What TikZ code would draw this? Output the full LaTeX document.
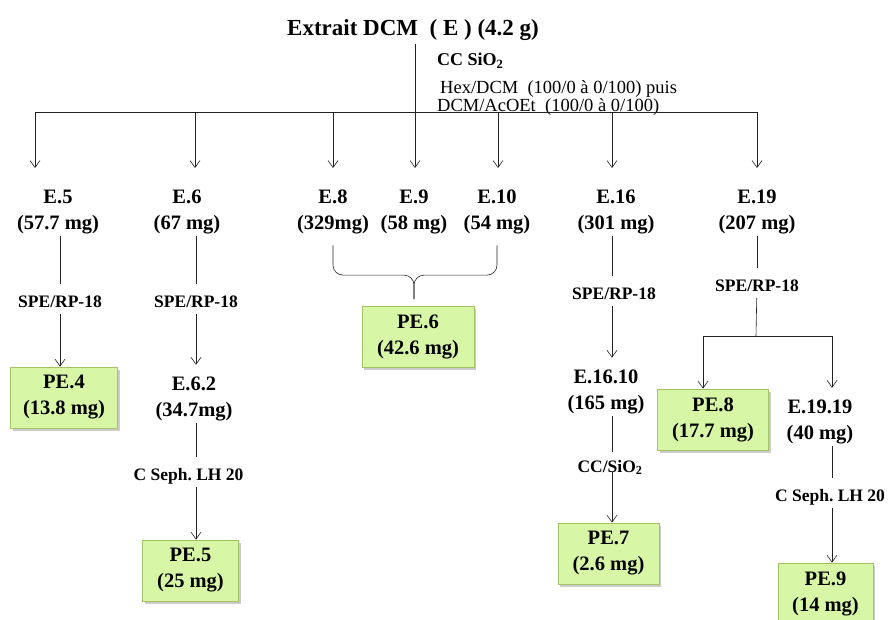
\documentclass[tikz,border=0pt]{standalone}
\usepackage{fontspec}
\setmainfont{Liberation Serif}
\usetikzlibrary{arrows.meta,positioning,calc,shadows}
\definecolor{pegreen}{HTML}{D8F7A6}
\definecolor{peedge}{HTML}{A3C267}
\definecolor{ink}{HTML}{222222}
\frenchspacing

\begin{document}
\begin{tikzpicture}[
  x=1pt, y=-1pt,
  frac/.style={font=\bfseries\fontsize{20.5}{26}\selectfont, text=black,
    align=center, inner sep=2pt},
  method/.style={font=\bfseries\fontsize{17.5}{20}\selectfont, text=black,
    text height=20pt, text depth=4pt, inner ysep=3pt, inner xsep=1pt},
  pebox/.style={draw=peedge, fill=pegreen, line width=0.8pt,
    drop shadow={shadow xshift=2pt, shadow yshift=-2.5pt, fill=black!40},
    font=\bfseries\fontsize{20.5}{26}\selectfont, align=center,
    minimum width=#1, minimum height=61pt, inner sep=0pt},
  line/.style={ink, line width=0.6pt},
  arrow/.style={ink, line width=0.6pt, -{Straight Barb[length=7pt,width=10pt]}},
  tofrac/.style={shorten >=10pt},
]
  \useasboundingbox (0,0) rectangle (890,619);

  % Extract and first column
  \node[font=\bfseries\fontsize{23}{26}\selectfont] (title) at (413,30)
    {Extrait DCM~~( E ) (4.2 g)};
  \node[anchor=west, font=\bfseries\fontsize{18}{20}\selectfont, inner sep=0pt]
    (cc) at (437,61) {CC SiO\textsubscript{2}};
  \node[anchor=north west, align=left, font=\fontsize{18.5}{18}\selectfont, inner sep=0pt]
    (eluent) at (437,80)
    {\hspace{3pt}Hex/DCM~~(100/0 à 0/100) puis\\DCM/AcOEt~~(100/0 à 0/100)};

  % Fractions bus
  \foreach \x/\n in {35/5,195/6,333/8,415/9,498/10,612/16,757/19} {
    \coordinate (top\n) at (\x,112);
    \coordinate (tip\n) at (\x,168);
    \draw[arrow] (top\n) -- (tip\n);
  }
  \draw[line] (top5) -- (top19);
  \draw[line] (title.south -| top9) -- (top9);

  % Fractions E
  \node[frac] (e5)  at (58,212)  {E.5\\(57.7 mg)};
  \node[frac] (e6)  at (187,212) {E.6\\(67 mg)};
  \node[frac] (e8)  at (333,212) {E.8\\(329mg)};
  \node[frac] (e9)  at (414,212) {E.9\\(58 mg)};
  \node[frac] (e10) at (497,212) {E.10\\(54 mg)};
  \node[frac] (e16) at (616,212) {E.16\\(301 mg)};
  \node[frac] (e19) at (757,212) {E.19\\(207 mg)};

  % E.5 -> PE.4
  \node[method] (m5) at (60,299) {SPE/RP-18};
  \node[pebox=107pt] (pe4) at (64,397.5) {PE.4\\(13.8 mg)};
  \draw[line] (e5.south -| m5) -- (m5);
  \draw[arrow] (m5) -- (m5 |- pe4.north);

  % E.6 -> E.6.2 -> PE.5
  \node[method] (m6) at (196,299) {SPE/RP-18};
  \node[frac] (e62) at (194,399) {E.6.2\\(34.7mg)};
  \node[method] (m62) at (188.5,472) {C Seph. LH 20};
  \node[pebox=96pt] (pe5) at (190.5,570.5) {PE.5\\(25 mg)};
  \draw[line] (e6.south -| m6) -- (m6);
  \draw[arrow, tofrac] (m6) -- (m6 |- e62.north);
  \draw[line] (e62.south -| m6) -- (m6 |- m62.north);
  \draw[arrow] (m6 |- m62.south) -- (m6 |- pe5.north);

  % E.8 + E.9 + E.10 -> PE.6
  \node[pebox=112pt] (pe6) at (418,337) {PE.6\\(42.6 mg)};
  \coordinate (cusp) at ($(e9 |- pe6.north)+(0,-7)$);
  \draw[line, rounded corners=10pt] ($(e8.south)+(0,9)$) |- ($(cusp)+(0,-24)$) -- (cusp);
  \draw[line, rounded corners=10pt] ($(e10.south)+(0,9)$) |- ($(cusp)+(0,-24)$) -- (cusp);

  % E.16 -> E.16.10 -> PE.7
  \node[method] (m16) at (614,291) {SPE/RP-18};
  \node[frac] (e1610) at (606,392) {E.16.10\\(165 mg)};
  \node[method, text depth=0pt, inner ysep=0pt] (m1610) at (610,462) {CC/SiO\textsubscript{2}};
  \node[pebox=101pt] (pe7) at (608.5,553.5) {PE.7\\(2.6 mg)};
  \draw[line] (e16.south -| tip16) -- (tip16 |- m16.north);
  \draw[arrow, tofrac] (tip16 |- m16.south) -- (tip16 |- e1610.north);
  \draw[line] (tip16 |- e1610.south) -- (tip16 |- m1610.north);
  \draw[arrow] (tip16 |- m1610.south) -- (tip16 |- pe7.north);

  % E.19 -> PE.8 and E.19.19 -> PE.9
  \node[method] (m19) at (757,283) {SPE/RP-18};
  \coordinate (split) at (756,336);
  \coordinate (c1919) at (832,336);
  \node[pebox=111pt] (pe8) at (713,419.5) {PE.8\\(17.7 mg)};
  \node[frac] (e1919) at (820,422) {E.19.19\\(40 mg)};
  \node[method] (m1919) at (830,493) {C Seph. LH 20};
  \node[pebox=95pt] (pe9) at (825.5,593.5) {PE.9\\(14 mg)};
  \draw[line] (e19.south) -- (m19);
  \draw[line] (m19) -- (split);
  \draw[arrow] (split) -| ($(pe8.north)+(-10,0)$);
  \draw[arrow, tofrac] (split) -| (c1919 |- e1919.north);
  \draw[line] (c1919 |- e1919.south) -- (c1919 |- m1919.north);
  \draw[arrow] (c1919 |- m1919.south) -- (c1919 |- pe9.north);

\end{tikzpicture}
\end{document}
